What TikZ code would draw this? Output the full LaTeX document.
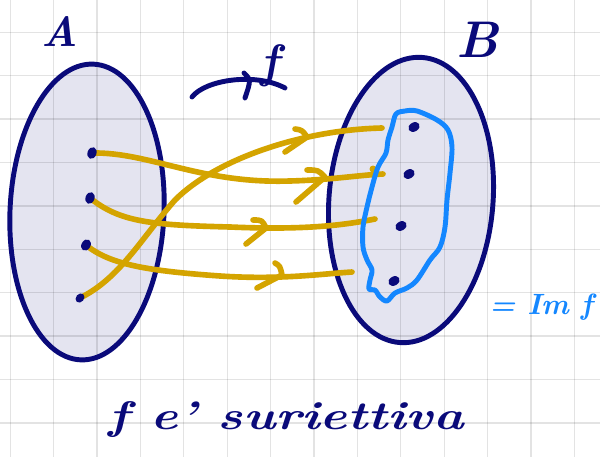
\documentclass[tikz,border=0pt]{standalone}
\usetikzlibrary{shapes.geometric}
\definecolor{navy}{RGB}{10,10,122}
\definecolor{gold}{RGB}{212,164,0}
\definecolor{imblue}{RGB}{20,135,255}
\definecolor{setfill}{RGB}{228,228,240}
\tikzset{
  setline/.style={draw=navy,line width=4.2pt},
  mapline/.style={draw=gold,line width=4.8pt,line cap=round,line join=round},
  elem/.style={fill=navy,draw=none,ellipse,inner sep=0pt,minimum width=0.36cm,minimum height=0.27cm},
  hand/.style={text=navy},
}
\begin{document}
\begin{tikzpicture}[x=0.03cm,y=-0.03cm]
\useasboundingbox (0,0) rectangle (600,457);
\fill[white] (0,0) rectangle (600,457);
% set fills
\fill[setfill,rotate around={-2.5:(87,212)}] (87,212) ellipse (77 and 148);
\fill[setfill,rotate around={-4.6:(411,200)}] (411,200) ellipse (82 and 143);
% grid
\foreach \k in {0,...,13} {\draw[black,opacity=0.11,line width=1.1pt] ({10.2+43.4*\k},0) -- ({10.2+43.4*\k},457);}
\foreach \k in {0,...,9} {\draw[black,opacity=0.11,line width=1.1pt] (0,{32.3+43.4*\k}) -- (600,{32.3+43.4*\k});}
% set outlines
\draw[setline,rotate around={-2.5:(87,212)}] (87,212) ellipse (77 and 148);
\draw[setline,rotate around={-4.6:(411,200)}] (411,200) ellipse (82 and 143);
% element positions
\coordinate (a1) at (92,153);
\coordinate (a2) at (90,198);
\coordinate (a3) at (86,245);
\coordinate (a4) at (80,298);
% ends of the mapping arrows
\coordinate (e1) at (383,174);
\coordinate (e2) at (375,219);
\coordinate (e3) at (352,272);
\coordinate (e4) at (382,128);
% mapping curves
\draw[mapline] (a1) .. controls (150,152) and (200,184) .. (290,181) .. controls (330,180) and (360,175) .. (e1);
\draw[mapline] (a2) .. controls (120,222) and (150,225) .. (230,227) .. controls (300,230) and (340,226) .. (e2);
\draw[mapline] (a3) .. controls (110,265) and (150,271) .. (220,276) .. controls (280,280) and (320,274) .. (e3);
\draw[mapline] (a4) .. controls (120,278) and (140,240) .. (175,200) .. controls (215,160) and (300,130) .. (e4);
\fill[gold] (373,169) circle (3.5);
% arrowheads
\draw[mapline] (307,170) .. controls (318,170) .. (325,177) -- (296,202);
\draw[mapline] (253,220) .. controls (262,220) .. (266,228) -- (246,244);
\draw[mapline] (275,263) .. controls (280,266) .. (282,275) -- (257,288);
\draw[mapline] (295,129) .. controls (302,130) .. (307,137) -- (285,152);
% elements of A (on top of the curves)
\node[elem,rotate=70] (n1) at (a1) {};
\node[elem,rotate=70] (n2) at (a2) {};
\node[elem,rotate=60] (n3) at (a3) {};
\node[elem,rotate=50,minimum width=0.3cm,minimum height=0.24cm] (n4) at (a4) {};
% image of f
\draw[imblue,line width=4.2pt,line cap=round,line join=round] plot[smooth cycle,tension=0.55] coordinates {
(396,114) (405,111) (417,111) (437,120) (448,130) (452,147) (450,173) (447,200) (445,227) (440,247) (430,260) (417,280) (407,288) (395,293) (387,301) (380,297) (375,290) (369,289) (370,280) (372,270) (367,260) (363,247) (363,227) (367,207) (372,187) (378,167) (386,153) (388,140) (392,127)};
% elements of B
\node[elem,rotate=30] (b1) at (414,127) {};
\node[elem,rotate=30] (b2) at (409,174) {};
\node[elem,rotate=30] (b3) at (401,226) {};
\node[elem,rotate=30] (b4) at (394,281) {};
% f arrow at top
\coordinate (fs) at (192,97);
\coordinate (fe) at (285,88);
\draw[navy,line width=4.2pt,line cap=round] (fs) .. controls (205,80) and (255,72) .. (fe);
\draw[navy,line width=4.2pt,line cap=round] (244,73) .. controls (251,80) .. (245,98);
% labels
\node[hand,font=\fontsize{36}{36}\selectfont\bfseries\itshape] (lA) at (60,32) {A};
\node[hand,font=\fontsize{44}{44}\selectfont\bfseries\itshape] (lB) at (478,40) {B};
\node[hand,font=\fontsize{40}{40}\selectfont\bfseries\itshape] (lf) at (270,66) {f};
\node[hand,font=\fontsize{34}{34}\selectfont\bfseries\itshape,xscale=1.3] (ls) at (286,420) {f e' suriettiva};
\node[hand,text=imblue,font=\fontsize{25}{25}\selectfont\bfseries\itshape,inner sep=0pt] (lim) at (541,307) {= Im f};
\end{tikzpicture}
\end{document}
